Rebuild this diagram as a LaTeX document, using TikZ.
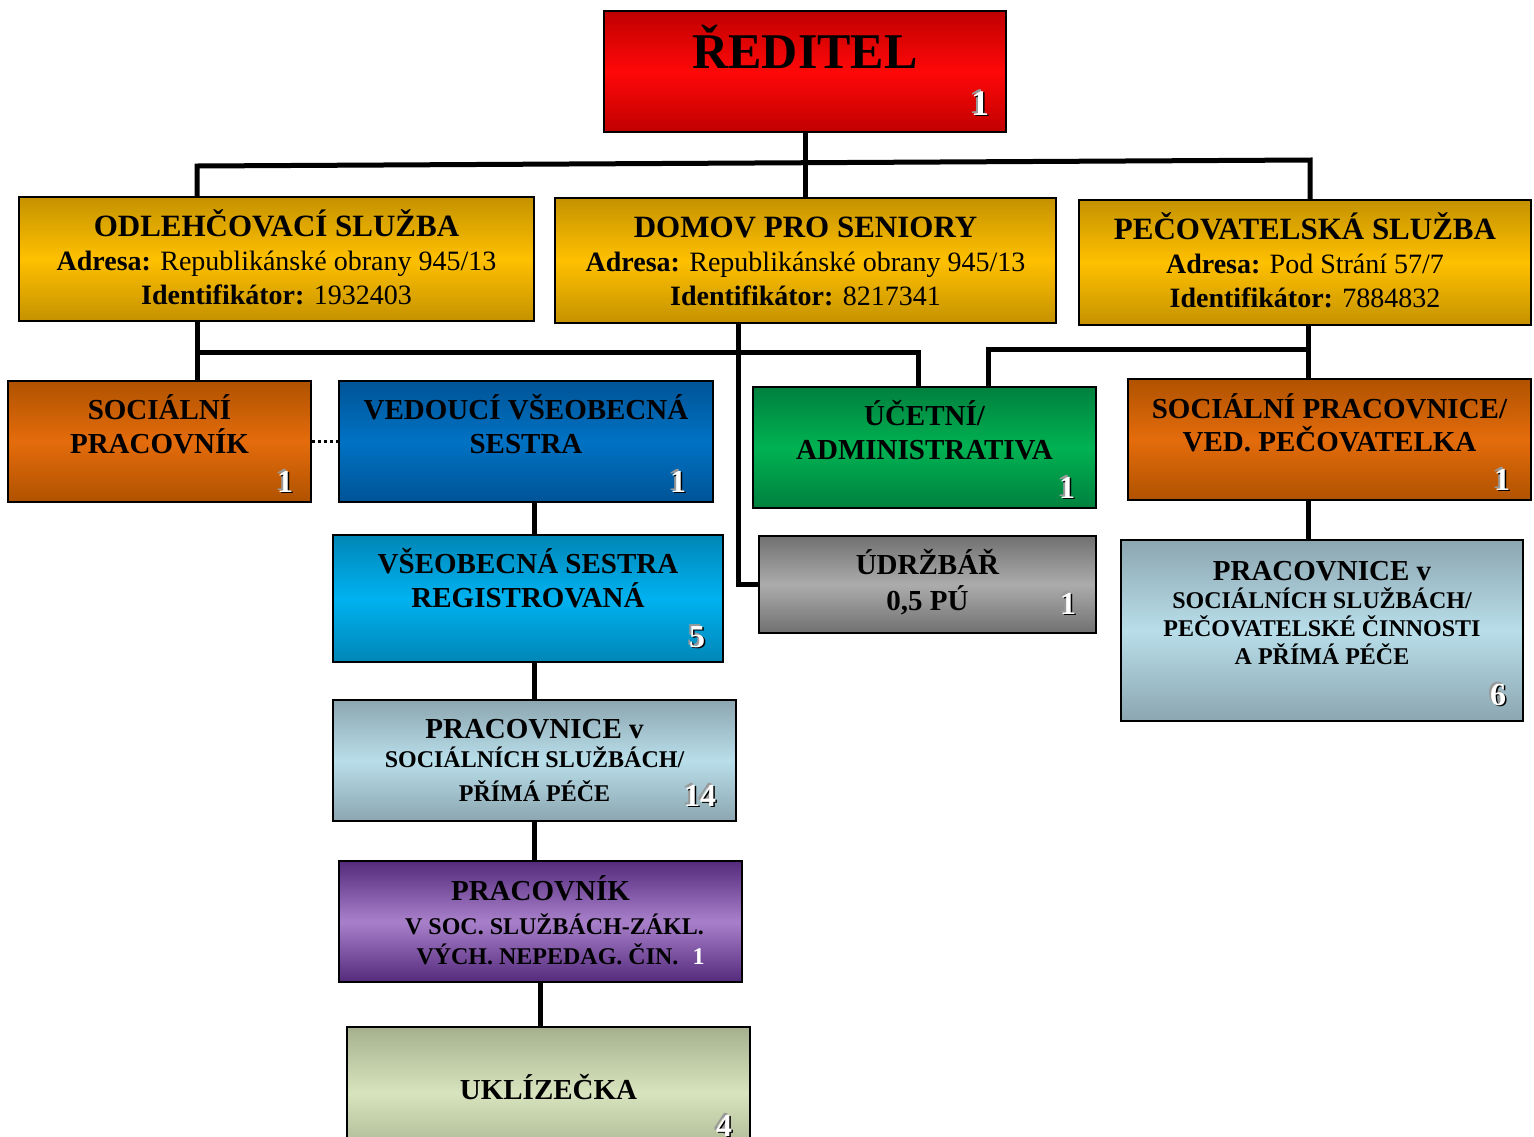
\documentclass[tikz,border=0pt]{standalone}
\usepackage{fontspec}
\setmainfont{Liberation Serif}
\usepackage{xcolor}
\usetikzlibrary{
    positioning
}
\definecolor{redEdge}{RGB}{192,0,0}
\definecolor{redMid}{RGB}{255,8,8}
\definecolor{goldEdge}{RGB}{196,146,0}
\definecolor{goldMid}{RGB}{255,192,0}
\definecolor{orangeEdge}{RGB}{176,82,0}
\definecolor{orangeMid}{RGB}{228,108,12}
\definecolor{blueEdge}{RGB}{0,84,150}
\definecolor{blueMid}{RGB}{0,114,196}
\definecolor{greenEdge}{RGB}{0,128,62}
\definecolor{greenMid}{RGB}{0,178,82}
\definecolor{cyanEdge}{RGB}{0,134,182}
\definecolor{cyanMid}{RGB}{0,178,240}
\definecolor{grayEdge}{RGB}{112,112,112}
\definecolor{grayMid}{RGB}{172,172,172}
\definecolor{paleEdge}{RGB}{140,166,176}
\definecolor{paleMid}{RGB}{184,222,234}
\definecolor{purpleEdge}{RGB}{84,42,124}
\definecolor{purpleMid}{RGB}{168,128,202}
\definecolor{oliveEdge}{RGB}{166,176,142}
\definecolor{oliveMid}{RGB}{216,228,190}

% white head count with its shadows
\newcommand{\staffno}[1]{%
  \makebox[0pt][l]{\hspace*{-2pt}\raisebox{2pt}{\color{gray!80}#1}}%
  \makebox[0pt][l]{\hspace*{1.5pt}\raisebox{-1.5pt}{\color{black}#1}}%
  {\color{white}#1}}

\tikzset{
  postbox/.style = {
      draw,
      line width=2pt,
      rectangle,
      inner sep=0pt,
      anchor=north west
  },
  redbox/.style = {
    postbox,
    top color=redEdge, bottom color=redEdge, middle color=redMid
  },
  goldbox/.style = {
    postbox,
    top color=goldEdge, bottom color=goldEdge, middle color=goldMid
  },
  orangebox/.style = {
    postbox,
    top color=orangeEdge, bottom color=orangeEdge, middle color=orangeMid
  },
  bluebox/.style = {
    postbox,
    top color=blueEdge, bottom color=blueEdge, middle color=blueMid
  },
  greenbox/.style = {
    postbox,
    top color=greenEdge, bottom color=greenEdge, middle color=greenMid
  },
  cyanbox/.style = {
    postbox,
    top color=cyanEdge, bottom color=cyanEdge, middle color=cyanMid
  },
  graybox/.style = {
    postbox,
    top color=grayEdge, bottom color=grayEdge, middle color=grayMid
  },
  palebox/.style = {
    postbox,
    top color=paleEdge, bottom color=paleEdge, middle color=paleMid
  },
  purplebox/.style = {
    postbox,
    top color=purpleEdge, bottom color=purpleEdge, middle color=purpleMid
  },
  olivebox/.style = {
    postbox,
    top color=oliveEdge, bottom color=oliveEdge, middle color=oliveMid
  },
  head/.style = {
      anchor=base,
      align=center,
      inner sep=0pt,
      font=\bfseries\fontsize{29}{34}\selectfont
  },
  branchtext/.style = {
      head,
      font=\fontsize{28}{34}\selectfont
  },
  small/.style = {
      head,
      font=\bfseries\fontsize{24}{28}\selectfont
  },
  count/.style = {
      anchor=base,
      inner sep=0pt,
      font=\bfseries\fontsize{32}{32}\selectfont
  },
  link/.style = {
      line width=5pt
  },
  dots/.style = {
      line width=3pt,
      dash pattern=on 3pt off 3pt
  }
}

\begin{document}
\begin{tikzpicture}[x=1pt, y=-1pt]
    \useasboundingbox (0,0) rectangle (1534,1136);
    \clip (0,0) rectangle (1534,1136);

    % head
    \node[redbox, minimum width=402pt, minimum height=121pt] (boss) at (603,10) {};
    \node[head, font=\bfseries\fontsize{50}{50}\selectfont] (bossT) at ([yshift=-58pt]boss.north) {ŘEDITEL};
    \node[count, font=\bfseries\fontsize{36}{36}\selectfont] (bossN) at ([shift={(-27pt,18pt)}]boss.south east) {\staffno{1}};

    % branches (text nodes sit on the baseline of their last line)
    \node[goldbox, minimum width=515pt, minimum height=124pt] (os) at (18,196) {};
    \node[branchtext] (osT) at ([yshift=-108pt]os.north)
        {{\bfseries\fontsize{31}{34}\selectfont ODLEHČOVACÍ SLUŽBA}\\
         {\bfseries Adresa:} Republikánské obrany 945/13\\
         {\bfseries Identifikátor:} 1932403};
    \node[goldbox, minimum width=501pt, minimum height=125pt] (ds) at (554,197) {};
    \node[branchtext] (dsT) at ([yshift=-108pt]ds.north)
        {{\bfseries\fontsize{31}{34}\selectfont DOMOV PRO SENIORY}\\
         {\bfseries Adresa:} Republikánské obrany 945/13\\
         {\bfseries Identifikátor:} 8217341};
    \node[goldbox, minimum width=452pt, minimum height=125pt] (ps) at (1078,199) {};
    \node[branchtext] (psT) at ([yshift=-108pt]ps.north)
        {{\bfseries\fontsize{31}{34}\selectfont PEČOVATELSKÁ SLUŽBA}\\
         {\bfseries Adresa:} Pod Strání 57/7\\
         {\bfseries Identifikátor:} 7884832};

    % second row
    \node[orangebox, minimum width=303pt, minimum height=121pt] (sp) at (7,380) {};
    \node[head] (spT) at ([yshift=-73pt]sp.north) {SOCIÁLNÍ\\PRACOVNÍK};
    \node[count] (spN) at ([shift={(-27pt,11pt)}]sp.south east) {\staffno{1}};

    \node[bluebox, minimum width=374pt, minimum height=121pt] (ved) at (338,380) {};
    \node[head] (vedT) at ([yshift=-73pt]ved.north) {VEDOUCÍ VŠEOBECNÁ\\SESTRA};
    \node[count] (vedN) at ([shift={(-36pt,11pt)}]ved.south east) {\staffno{1}};

    \node[greenbox, minimum width=343pt, minimum height=121pt] (uc) at (752,386) {};
    \node[head] (ucT) at ([yshift=-73pt]uc.north) {ÚČETNÍ/\\ADMINISTRATIVA};
    \node[count] (ucN) at ([shift={(-30pt,11pt)}]uc.south east) {\staffno{1}};

    \node[orangebox, minimum width=403pt, minimum height=121pt] (spv) at (1127,378) {};
    \node[head, font=\bfseries\fontsize{29}{33}\selectfont] (spvT) at ([yshift=-73pt]spv.north)
        {SOCIÁLNÍ PRACOVNICE/\\VED. PEČOVATELKA};
    \node[count] (spvN) at ([shift={(-30pt,11pt)}]spv.south east) {\staffno{1}};

    % third row and the care column
    \node[cyanbox, minimum width=390pt, minimum height=127pt, below=31pt of ved, xshift=2pt] (vsr) {};
    \node[head] (vsrT) at ([yshift=-73pt]vsr.north) {VŠEOBECNÁ SESTRA\\REGISTROVANÁ};
    \node[count] (vsrN) at ([shift={(-27pt,16pt)}]vsr.south east) {\staffno{5}};

    \node[graybox, minimum width=337pt, minimum height=97pt] (ud) at (758,535) {};
    \node[head] (udT) at ([yshift=-75pt]ud.north) {ÚDRŽBÁŘ\\[2pt]0,5 PÚ};
    \node[count] (udN) at ([shift={(-29pt,20pt)}]ud.south east) {\staffno{1}};

    \node[palebox, minimum width=402pt, minimum height=181pt] (pr) at (1120,539) {};
    \node[small] (prT) at ([yshift=-125pt]pr.north)
        {{\fontsize{29}{28}\selectfont PRACOVNICE v}\\
         SOCIÁLNÍCH SLUŽBÁCH/\\
         PEČOVATELSKÉ ČINNOSTI\\
         A PŘÍMÁ PÉČE};
    \node[count] (prN) at ([shift={(-26pt,17pt)}]pr.south east) {\staffno{6}};

    \node[palebox, minimum width=403pt, minimum height=121pt, below=36pt of vsr, xshift=6.5pt] (ppp) {};
    \node[small, font=\bfseries\fontsize{24}{29}\selectfont] (pppT) at ([yshift=-102pt]ppp.north)
        {{\fontsize{29}{29}\selectfont PRACOVNICE v}\\
         SOCIÁLNÍCH SLUŽBÁCH/\\[5pt]
         PŘÍMÁ PÉČE};
    \node[count] (pppN) at ([shift={(-37pt,16pt)}]ppp.south east) {\staffno{14}};

    \node[purplebox, minimum width=403pt, minimum height=121pt, below=38pt of ppp, xshift=6pt] (prk) {};
    \node[small, font=\bfseries\fontsize{24}{30}\selectfont] (prkT) at ([yshift=-104pt]prk.north)
        {{\fontsize{29}{30}\selectfont PRACOVNÍK}\\[4pt]
         \hspace*{28pt}V SOC. SLUŽBÁCH-ZÁKL.\\
         \hspace*{40pt}VÝCH. NEPEDAG. ČIN.\hspace*{14pt}{\color{white}1}};

    \node[olivebox, minimum width=403pt, minimum height=132pt, below=43pt of prk, xshift=8pt] (ukl) {};
    \node[head] (uklT) at ([yshift=-73pt]ukl.north) {UKLÍZEČKA};
    \node[count] (uklN) at ([shift={(-27pt,24pt)}]ukl.south east) {\staffno{4}};

    % connectors
    \coordinate (busL) at (197,166);
    \coordinate (busR) at (1310,160);
    \coordinate (midL) at (197,352);
    \coordinate (midR) at (918,352);
    \coordinate (rbL) at (988,349);
    \coordinate (rbR) at (1308,349);
    \coordinate (careX) at (738,583);
    \draw[link] (boss.south) -- (boss.south |- ds.north);
    \draw[link] (os.north -| busL) -- (busL) -- (busR) -- (busR |- ps.north);
    \draw[link] (os.south -| midL) -- (sp.north -| midL);
    \draw[link] (midL) -- (midR) -- (uc.north -| midR);
    \draw[link] (ds.south -| careX) -- (careX |- ud.west) -- (ud.west);
    \draw[link] (uc.north -| rbL) -- (rbL) -- (rbR);
    \draw[link] (ps.south -| rbR) -- (spv.north -| rbR);
    \draw[link] (spv.south -| rbR) -- (pr.north -| rbR);
    \draw[link] (ved.south -| ppp.north) -- (vsr.north -| ppp.north);
    \draw[link] (vsr.south -| ppp.north) -- (ppp.north);
    \draw[link] (ppp.south) -- (prk.north -| ppp.south);
    \draw[link] (prk.south) -- (ukl.north -| prk.south);
    \draw[dots] (sp.east) -- (ved.west);
\end{tikzpicture}
\end{document}
